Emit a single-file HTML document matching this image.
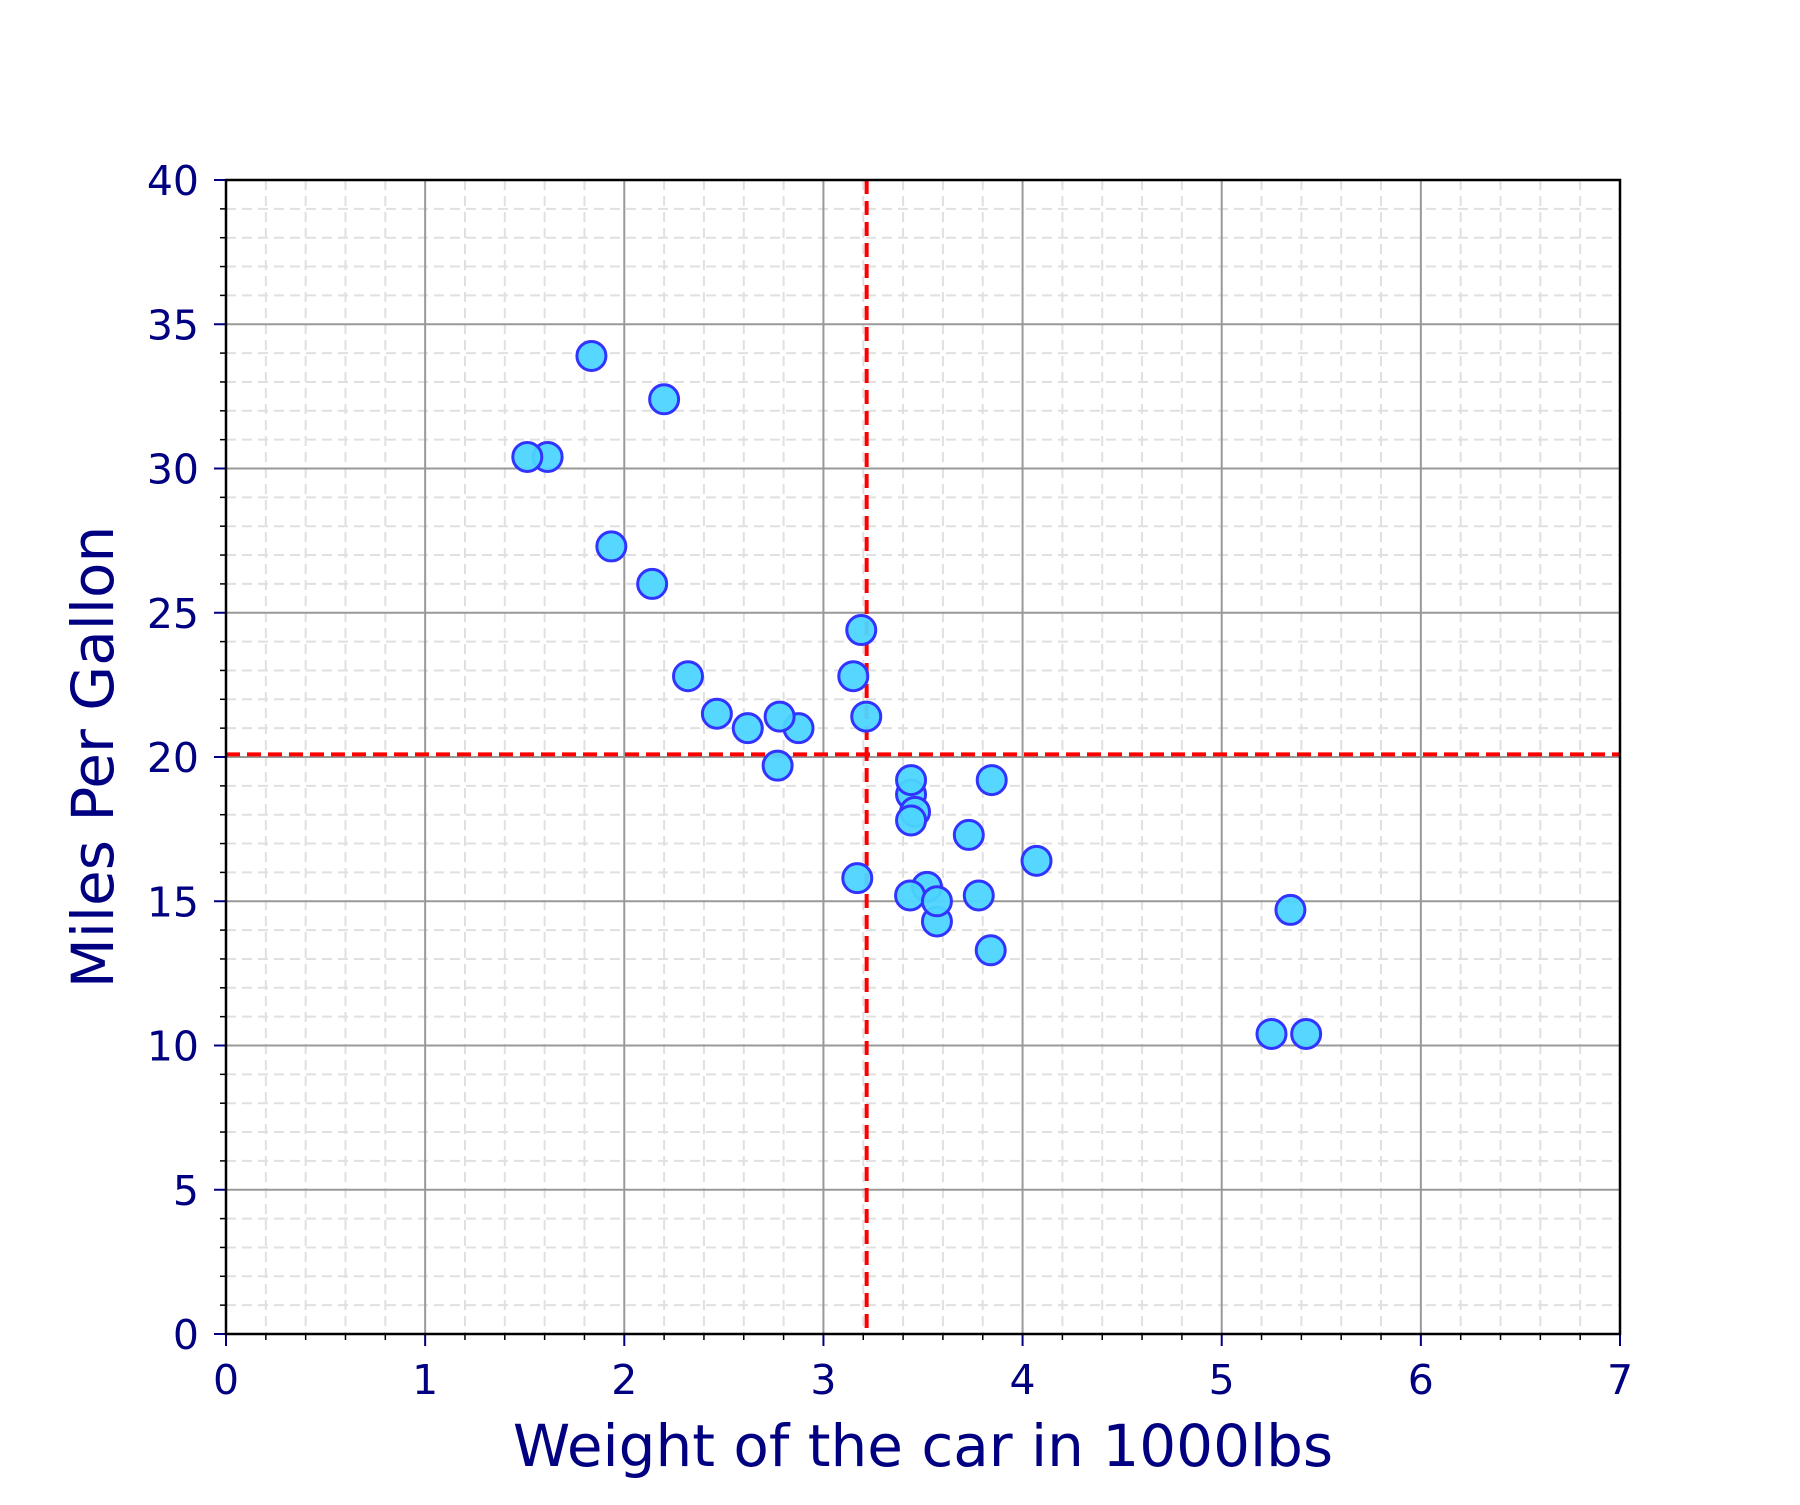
<!DOCTYPE html>
<html><head><meta charset="utf-8"><style>
html,body{margin:0;padding:0;background:#fff;}
svg text{font-family:"DejaVu Sans","Liberation Sans",sans-serif;fill:#000080;}
</style></head><body>
<svg id="chart" xmlns="http://www.w3.org/2000/svg" width="1800" height="1500" viewBox="0 0 1800 1500">
<rect width="1800" height="1500" fill="#fff"/>
<g id="grid"></g><g id="refs"></g><g id="pts"></g><g id="axes"></g>
</svg>
<script>
const weights=[2.620,2.875,2.320,3.215,3.440,3.460,3.570,3.190,3.150,3.440,3.440,4.070,3.730,3.780,5.250,5.424,5.345,2.200,1.615,1.835,2.465,3.520,3.435,3.840,3.845,1.935,2.140,1.513,3.170,2.770,3.570,2.780];
const mpgs=[21.0,21.0,22.8,21.4,18.7,18.1,14.3,24.4,22.8,19.2,17.8,16.4,17.3,15.2,10.4,10.4,14.7,32.4,30.4,33.9,21.5,15.5,15.2,13.3,19.2,27.3,26.0,30.4,15.8,19.7,15.0,21.4];
const xTicks=[0,1,2,3,4,5,6,7];
const yTicks=[0,5,10,15,20,25,30,35,40];
const meanWt=3.217, meanMpg=20.09;
const L=226,R=1620,T=180,B=1334;
const sx=v=>L+(v-0)/7*(R-L), sy=v=>B-(v/40)*(B-T);
const NS="http://www.w3.org/2000/svg";
function mk(p,tag,a){const e=document.createElementNS(NS,tag);for(const k in a)e.setAttribute(k,a[k]);p.appendChild(e);return e;}
const grid=document.getElementById('grid'),axes=document.getElementById('axes'),refs=document.getElementById('refs'),pts=document.getElementById('pts');
for(let i=1;i<35;i++){if(i%5===0)continue;const x=sx(i*0.2);
const l=mk(grid,'line',{x1:x,x2:x,y1:T,y2:B,stroke:'#e0e0e0','stroke-width':2,'stroke-dasharray':'10,6'});


mk(axes,'line',{x1:x,x2:x,y1:B,y2:B+6,stroke:'#000','stroke-width':1.5});}
for(let i=1;i<40;i++){if(i%5===0)continue;const y=sy(i);
const l=mk(grid,'line',{x1:L,x2:R,y1:y,y2:y,stroke:'#e0e0e0','stroke-width':2,'stroke-dasharray':'10,6'});


mk(axes,'line',{x1:L-6,x2:L,y1:y,y2:y,stroke:'#000','stroke-width':1.5});}
xTicks.forEach(v=>{const x=sx(v);
const g=mk(grid,'line',{x1:x,x2:x,y1:T,y2:B,stroke:'#999','stroke-width':2});


mk(axes,'line',{x1:x,x2:x,y1:B,y2:B+12,stroke:'#000080','stroke-width':2});
const t=mk(axes,'text',{x:x,y:B+60,'font-size':41,'text-anchor':'middle'});t.textContent=v;

});
yTicks.forEach(v=>{const y=sy(v);
const g=mk(grid,'line',{x1:L,x2:R,y1:y,y2:y,stroke:'#999','stroke-width':2});


mk(axes,'line',{x1:L-12,x2:L,y1:y,y2:y,stroke:'#000080','stroke-width':2});
const t=mk(axes,'text',{x:L-27,y:y+15,'font-size':41,'text-anchor':'end'});t.textContent=v;

});
const v1=mk(refs,'line',{x1:sx(meanWt),x2:sx(meanWt),y1:T,y2:B,stroke:'#ff0000','stroke-width':4,'stroke-dasharray':'14,7'});


const h1=mk(refs,'line',{x1:L,x2:R,y1:sy(meanMpg),y2:sy(meanMpg),stroke:'#ff0000','stroke-width':4,'stroke-dasharray':'14,7'});


weights.forEach((w,i)=>{const c=mk(pts,'circle',{cx:sx(w),cy:sy(mpgs[i]),r:14.5,fill:'#4dd5ff',stroke:'#3333ff','stroke-width':3,'fill-opacity':0.95});

});
const fr=mk(axes,'rect',{x:L,y:T,width:R-L,height:B-T,fill:'none',stroke:'#000','stroke-width':2.5});


const xl=mk(axes,'text',{x:(L+R)/2,y:1466,'font-size':58,'text-anchor':'middle'});xl.textContent='Weight of the car in 1000lbs';


const yl=mk(axes,'text',{x:0,y:0,'font-size':58,'text-anchor':'middle',transform:`translate(113,${(T+B)/2}) rotate(-90)`});yl.textContent='Miles Per Gallon';


</script>
</body></html>
